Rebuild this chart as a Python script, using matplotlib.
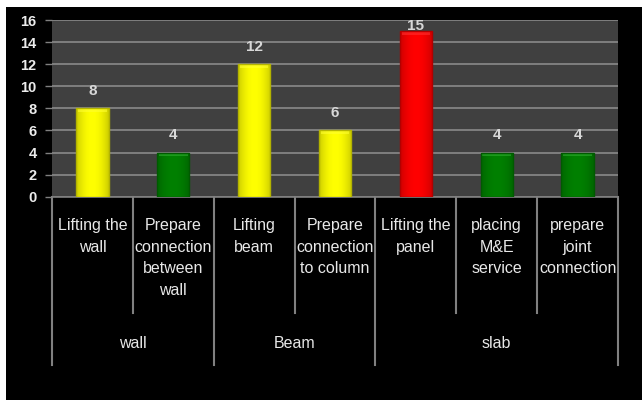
import numpy as np
import matplotlib.pyplot as plt
from matplotlib.colors import to_rgb
from matplotlib.patches import Rectangle
from matplotlib.transforms import blended_transform_factory

# activity durations per task, grouped by element
tasks = ["Lifting the\nwall", "Prepare\nconnection\nbetween\nwall",
         "Lifting\nbeam", "Prepare\nconnection\nto column",
         "Lifting the\npanel", "placing\nM&E\nservice", "prepare\njoint\nconnection"]
values = [8, 4, 12, 6, 15, 4, 4]
bar_colors = ["#ffff00", "#008000", "#ffff00", "#ffff00", "#ff0000", "#008000", "#008000"]
groups = ["wall", "Beam", "slab"]
group_sizes = [2, 2, 3]
yticks = [0, 2, 4, 6, 8, 10, 12, 14, 16]

W, H = 642, 400
fig = plt.figure(figsize=(W / 100, H / 100), dpi=100)
fig.patch.set_facecolor("black")

# white margins along the top and left
fig.patches.append(Rectangle((0, 1 - 7 / H), 1, 7 / H, transform=fig.transFigure,
                             facecolor="white", edgecolor="none", zorder=0))
fig.patches.append(Rectangle((0, 0), 6 / W, 1, transform=fig.transFigure,
                             facecolor="white", edgecolor="none", zorder=0))

left, right, top, bottom = 52, 618, 20, 196.7
ax = fig.add_axes([left / W, 1 - bottom / H, (right - left) / W, (bottom - top) / H])
ax.set_facecolor("#404040")
ax.set_xlim(-0.5, len(values) - 0.5)
ax.set_ylim(0, 16)
ax.set_yticks(yticks)
ax.set_yticklabels([str(t) for t in yticks], color="#ececec", fontsize=10.5,
                   fontweight="bold", family="Liberation Sans")
ax.tick_params(axis="y", length=5, color="#808080", width=1, pad=6)
ax.set_xticks([])
ax.grid(axis="y", color="#8a8a8a", linewidth=1.2)
ax.set_axisbelow(True)
for side in ["top", "right", "left"]:
    ax.spines[side].set_visible(False)
ax.spines["bottom"].set_color("#808080")
ax.spines["bottom"].set_linewidth(1.2)

x = np.arange(len(values))
bars = ax.bar(x, values, width=0.4, color=bar_colors, zorder=3)

# cylinder-like shading on each bar
prof = np.linspace(-1, 1, 64)
shade = 0.8 + 0.2 * (1 - prof ** 2)
for b, c in zip(bars, bar_colors):
    rgb = np.array(to_rgb(c))
    img = np.clip(rgb[None, :] * shade[:, None], 0, 1)[None, :, :]
    bx, bw, bh = b.get_x(), b.get_width(), b.get_height()
    im = ax.imshow(img, extent=[bx, bx + bw, 0, bh], aspect="auto", zorder=4)
    im.set_clip_path(b)
    top_band = np.clip(rgb + 0.18, 0, 1)
    ax.add_patch(Rectangle((bx + bw * 0.06, bh - 0.35), bw * 0.88, 0.3,
                           facecolor=top_band, edgecolor="none", alpha=0.6, zorder=5))
    ax.add_patch(Rectangle((bx, 0), bw, bh, facecolor="none",
                           edgecolor=rgb * 0.7, linewidth=1.0, zorder=6))

for xi, v in zip(x, values):
    ax.text(xi, min(v + 1.55, 15.5), str(v), ha="center", va="center",
            color="#d8d8d8", fontsize=11, fontweight="bold",
            family="Liberation Sans", zorder=7)

# two-level category axis below the plot
tr = blended_transform_factory(ax.transData, fig.transFigure)


def fy(py):
    return 1 - py / H


text_kw = dict(color="#e8e8e8", fontsize=11.5, family="Liberation Sans")
for xi, t in zip(x, tasks):
    ax.text(xi, fy(218), t, transform=tr, ha="center", va="top",
            linespacing=1.55, **text_kw)

edges = np.cumsum([0] + group_sizes) - 0.5
for i in range(len(values) + 1):
    xb = i - 0.5
    y_end = 365 if np.any(np.isclose(edges, xb)) else 313
    ax.plot([xb, xb], [fy(bottom), fy(y_end)], transform=tr, color="#808080",
            linewidth=1.5, clip_on=False)

for g, a, b in zip(groups, edges[:-1], edges[1:]):
    ax.text((a + b) / 2, fy(344), g, transform=tr, ha="center", va="center", **text_kw)

fig.savefig("out.png", dpi=100, facecolor=fig.get_facecolor())
